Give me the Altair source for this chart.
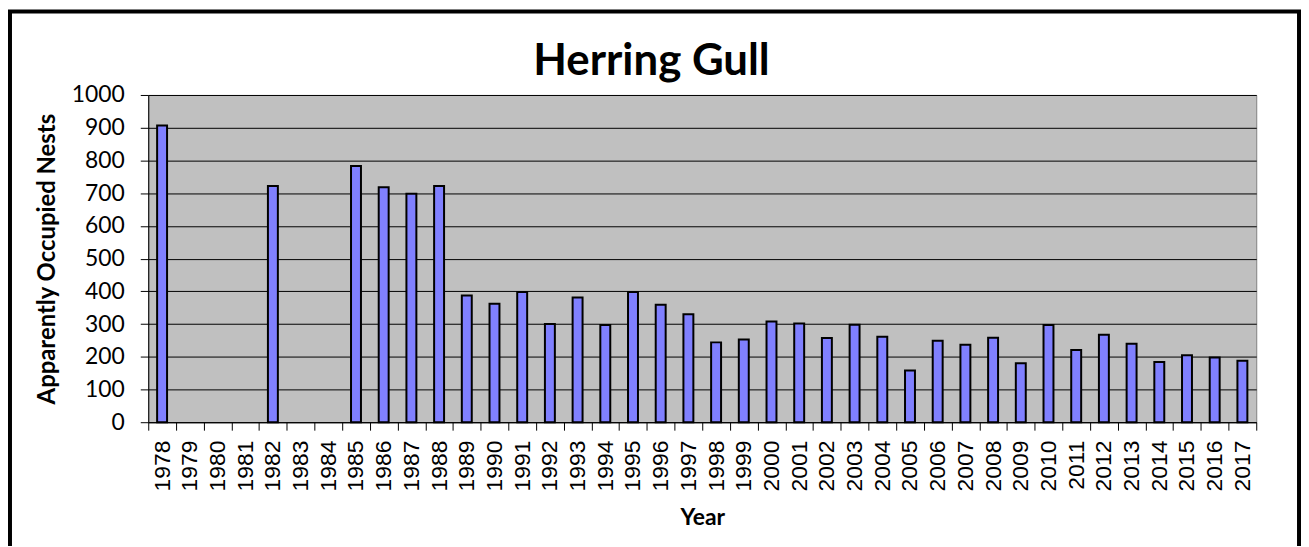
import altair as alt
import pandas as pd

years = ["1978", "1979", "1980", "1981", "1982", "1983", "1984", "1985", "1986", "1987",
         "1988", "1989", "1990", "1991", "1992", "1993", "1994", "1995", "1996", "1997",
         "1998", "1999", "2000", "2001", "2002", "2003", "2004", "2005", "2006", "2007",
         "2008", "2009", "2010", "2011", "2012", "2013", "2014", "2015", "2016", "2017"]
nests = [907, None, None, None, 722, None, None, 783, 718, 698,
         722, 387, 362, 398, 300, 381, 297, 398, 359, 330,
         244, 253, 308, 302, 257, 298, 261, 158, 249, 237,
         258, 180, 297, 221, 267, 240, 184, 205, 198, 188]
y_ticks = [0, 100, 200, 300, 400, 500, 600, 700, 800, 900, 1000]
chart_title = ["Herring Gull"]

df = pd.DataFrame({"Year": years, "Nests": nests})

PAD_L, PAD_T, W, H = 141, 86, 1114, 329
PAD_R = 1300 - PAD_L - W
PAD_B = 538 - PAD_T - H

bars = alt.Chart(df).mark_bar(size=10, fill="#8080FF", stroke="black", strokeWidth=2).encode(
    x=alt.X("Year:N", sort=years, scale=alt.Scale(domain=years, paddingInner=0, paddingOuter=0),
            axis=alt.Axis(title="Year", labelAngle=-90, labelFont="Liberation Sans", labelFontSize=23,
                          labelColor="black", tickBand="extent", tickSize=8, tickColor="black",
                          domainColor="black", labelPadding=10, titleFont="Lato", titleFontSize=23,
                          titleFontWeight="bold", titleColor="black", titlePadding=16, grid=False)),
    y=alt.Y("Nests:Q", scale=alt.Scale(domain=[0, 1000], nice=False),
            axis=alt.Axis(title="Apparently Occupied Nests", values=y_ticks, format="d",
                          labelFont="Lato", labelFontSize=23, labelColor="black", tickSize=8,
                          tickColor="black", domainColor="black", labelPadding=16,
                          gridColor="black", gridWidth=1, titleFont="Lato", titleFontSize=24,
                          titleFontWeight="bold", titleColor="black", titlePadding=12)),
)

title = alt.Chart(pd.DataFrame({"t": chart_title})).mark_text(
    font="Lato", fontSize=44, fontWeight="bold", color="black", align="center", baseline="alphabetic"
).encode(text="t:N", x=alt.value(655 - 8 - PAD_L), y=alt.value(74 - 8 - PAD_T))

border = alt.Chart(pd.DataFrame({"a": [0]})).mark_rect(filled=False, stroke="black", strokeWidth=4).encode(
    x=alt.value(2 - PAD_L), x2=alt.value(1298 - PAD_L),
    y=alt.value(2 - PAD_T), y2=alt.value(560 - PAD_T),
)

chart = alt.layer(bars, title, border).properties(
    width=W, height=H,
    padding={"left": PAD_L, "top": PAD_T, "right": PAD_R, "bottom": PAD_B},
    autosize=alt.AutoSizeParams(type="none"),
    background="white",
).configure_view(fill="#C0C0C0", stroke="#808080", strokeWidth=1)

chart.save("out.html", embed_options={"renderer": "svg", "actions": False})
